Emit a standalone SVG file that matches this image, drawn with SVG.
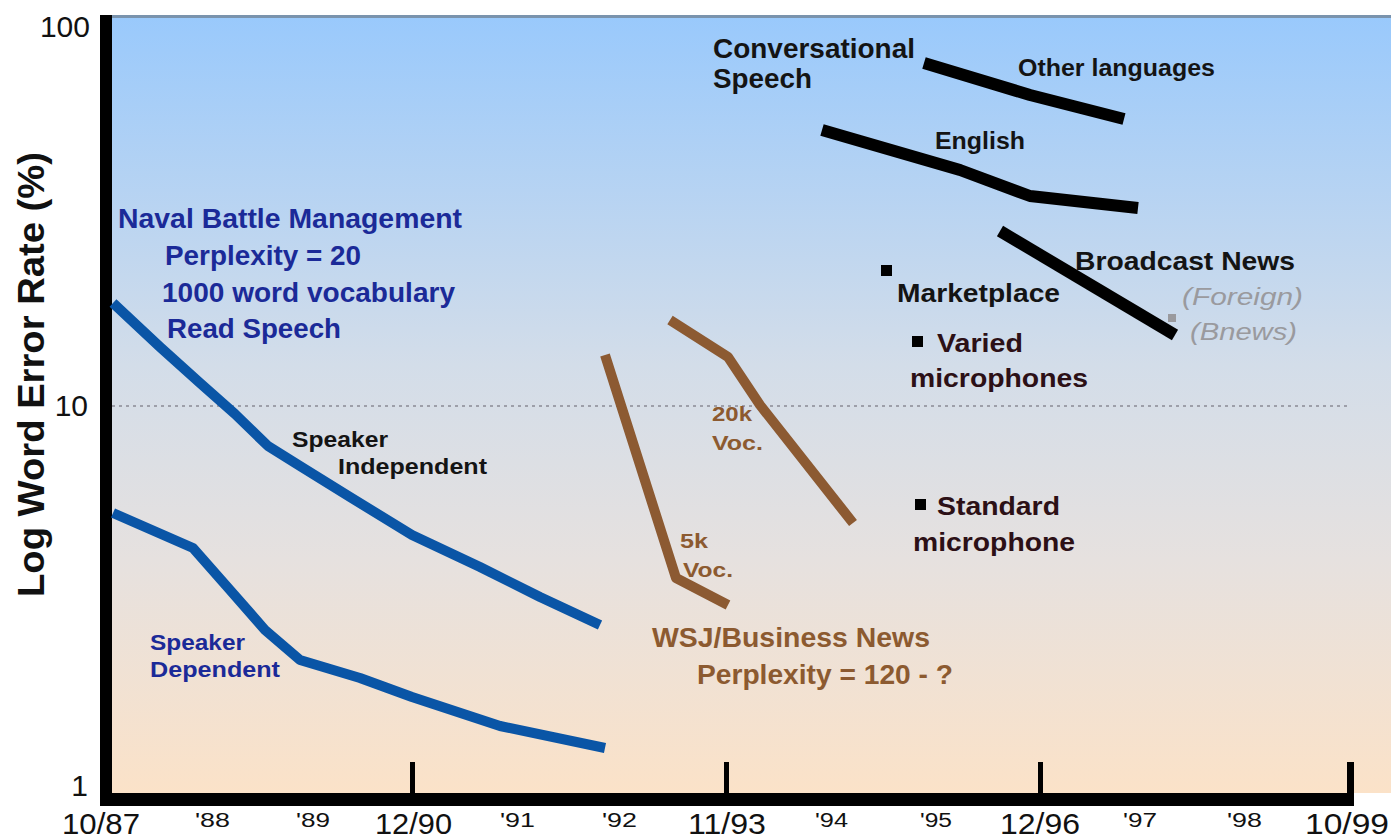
<svg xmlns="http://www.w3.org/2000/svg" width="1391" height="839" viewBox="0 0 1391 839">
<defs>
<linearGradient id="bg" x1="0" y1="0" x2="0" y2="1">
<stop offset="0" stop-color="#99c9fc"/>
<stop offset="0.45" stop-color="#d3dde9"/>
<stop offset="0.7" stop-color="#e6e1df"/>
<stop offset="1" stop-color="#fbe2c8"/>
</linearGradient>
</defs>
<style>
text{font-family:"Liberation Sans",Arial,sans-serif;font-weight:bold}
.ax{font-weight:normal;fill:#111}
.yl{font-size:30px}
.xb{font-size:30px}
.xs{font-size:20px}
.blue{fill:#1b2a98}
.blk{fill:#141414}
.brn{fill:#8c5a30}
.mar{fill:#2c1016}
.gry{fill:#9a9a9e;font-style:italic;font-weight:normal}
.lb{fill:none;stroke:#0a55a6;stroke-width:10;stroke-linejoin:round}
.lr{fill:none;stroke:#8c5a32;stroke-width:10;stroke-linejoin:round}
.lk{fill:none;stroke:#000;stroke-width:12;stroke-linejoin:round}
</style>
<rect width="1391" height="839" fill="#fff"/>
<g id="plot">
<rect x="112" y="15" width="1279" height="778" fill="url(#bg)"/>
<line x1="112" y1="16.5" x2="1391" y2="16.5" stroke="#7a93ad" stroke-width="3"/>
<line x1="112" y1="406" x2="1350" y2="406" stroke="#8a8a95" stroke-width="1.5" stroke-dasharray="3,4"/>
</g>
<g id="axes">
<rect x="100" y="15" width="12" height="791" fill="#000"/>
<rect x="100" y="793" width="1253" height="13" fill="#000"/>
<rect x="410" y="762" width="5" height="33" fill="#000"/>
<rect x="724" y="762" width="5" height="33" fill="#000"/>
<rect x="1038" y="762" width="5" height="33" fill="#000"/>
<rect x="1347" y="762" width="7" height="44" fill="#000"/>
<text class="ax yl" x="90" y="37" text-anchor="end">100</text>
<text class="ax yl" x="88" y="416" text-anchor="end">10</text>
<text class="ax yl" x="88" y="796" text-anchor="end">1</text>
<text class="ax" transform="translate(44,597) rotate(-90)" font-size="36" font-weight="bold" textLength="445" lengthAdjust="spacingAndGlyphs" style="font-weight:bold">Log Word Error Rate (%)</text>
<text class="ax xb" x="62" y="834" textLength="78" lengthAdjust="spacingAndGlyphs">10/87</text>
<text class="ax xs" x="195" y="827" textLength="35" lengthAdjust="spacingAndGlyphs">'88</text>
<text class="ax xs" x="296" y="827" textLength="34" lengthAdjust="spacingAndGlyphs">'89</text>
<text class="ax xb" x="375" y="834" textLength="77" lengthAdjust="spacingAndGlyphs">12/90</text>
<text class="ax xs" x="500" y="827" textLength="35" lengthAdjust="spacingAndGlyphs">'91</text>
<text class="ax xs" x="602" y="827" textLength="35" lengthAdjust="spacingAndGlyphs">'92</text>
<text class="ax xb" x="688" y="834" textLength="78" lengthAdjust="spacingAndGlyphs">11/93</text>
<text class="ax xs" x="815" y="827" textLength="33" lengthAdjust="spacingAndGlyphs">'94</text>
<text class="ax xs" x="920" y="827" textLength="32" lengthAdjust="spacingAndGlyphs">'95</text>
<text class="ax xb" x="1000" y="834" textLength="80" lengthAdjust="spacingAndGlyphs">12/96</text>
<text class="ax xs" x="1123" y="827" textLength="34" lengthAdjust="spacingAndGlyphs">'97</text>
<text class="ax xs" x="1227" y="827" textLength="35" lengthAdjust="spacingAndGlyphs">'98</text>
<text class="ax xb" x="1305" y="834" textLength="84" lengthAdjust="spacingAndGlyphs">10/99</text>
</g>
<g id="connectors">
<polyline class="lb" points="113,303 160,347 200,383 235,414 268,446 300,466 350,497 412,535 480,567 540,597 600,625"/>
<polyline class="lb" points="113,513 193,548 230,590 265,630 300,660 360,678 412,697 500,726 605,748"/>
<polyline class="lr" points="605,355 676,578 728,605"/>
<polyline class="lr" points="670,320 728,357 760,405 853,523"/>
<polyline class="lk" points="924,63 1030,95 1124,119"/>
<polyline class="lk" points="822,130 960,170 1030,196 1138,208"/>
<polyline class="lk" points="1000,231 1175,335"/>
</g>
<g id="naval">
<text class="blue" font-size="28" x="118" y="228" textLength="344" lengthAdjust="spacingAndGlyphs">Naval Battle Management</text>
<text class="blue" font-size="28" x="165" y="265" textLength="196" lengthAdjust="spacingAndGlyphs">Perplexity = 20</text>
<text class="blue" font-size="28" x="162" y="302" textLength="293" lengthAdjust="spacingAndGlyphs">1000 word vocabulary</text>
<text class="blue" font-size="28" x="167" y="338" textLength="174" lengthAdjust="spacingAndGlyphs">Read Speech</text>
</g>
<g id="speaker-independent">
<text class="blk" font-size="22" x="292" y="447" textLength="96" lengthAdjust="spacingAndGlyphs">Speaker</text>
<text class="blk" font-size="22" x="338" y="474" textLength="149" lengthAdjust="spacingAndGlyphs">Independent</text>
</g>
<g id="speaker-dependent">
<text class="blue" font-size="22" x="150" y="650" textLength="95" lengthAdjust="spacingAndGlyphs">Speaker</text>
<text class="blue" font-size="22" x="150" y="677" textLength="130" lengthAdjust="spacingAndGlyphs">Dependent</text>
</g>
<g id="wsj">
<text class="brn" font-size="20" x="712" y="421" textLength="40" lengthAdjust="spacingAndGlyphs">20k</text>
<text class="brn" font-size="20" x="712" y="450" textLength="51" lengthAdjust="spacingAndGlyphs">Voc.</text>
<text class="brn" font-size="20" x="680" y="548" textLength="28" lengthAdjust="spacingAndGlyphs">5k</text>
<text class="brn" font-size="20" x="683" y="577" textLength="50" lengthAdjust="spacingAndGlyphs">Voc.</text>
<text class="brn" font-size="27" x="652" y="647" textLength="278" lengthAdjust="spacingAndGlyphs">WSJ/Business News</text>
<text class="brn" font-size="27" x="697" y="684" textLength="256" lengthAdjust="spacingAndGlyphs">Perplexity = 120 - ?</text>
</g>
<g id="conversational">
<text class="blk" font-size="27" x="713" y="58" textLength="202" lengthAdjust="spacingAndGlyphs">Conversational</text>
<text class="blk" font-size="27" x="713" y="88" textLength="99" lengthAdjust="spacingAndGlyphs">Speech</text>
<text class="blk" font-size="23" x="1018" y="76" textLength="197" lengthAdjust="spacingAndGlyphs">Other languages</text>
<text class="blk" font-size="24" x="935" y="149" textLength="90" lengthAdjust="spacingAndGlyphs">English</text>
</g>
<g id="broadcast">
<text class="blk" font-size="26" x="1075" y="270" textLength="220" lengthAdjust="spacingAndGlyphs">Broadcast News</text>
<rect x="1168" y="314" width="8" height="8" fill="#9a9a9e"/>
<text class="gry" font-size="24" x="1182" y="305" textLength="121" lengthAdjust="spacingAndGlyphs">(Foreign)</text>
<text class="gry" font-size="24" x="1190" y="340" textLength="107" lengthAdjust="spacingAndGlyphs">(Bnews)</text>
</g>
<g id="marketplace">
<rect x="881" y="265" width="11" height="11" fill="#000"/>
<text class="blk" font-size="25" x="897" y="302" textLength="163" lengthAdjust="spacingAndGlyphs">Marketplace</text>
</g>
<g id="varied">
<rect x="912" y="336" width="11" height="11" fill="#000"/>
<text class="mar" font-size="26" x="937" y="352" textLength="86" lengthAdjust="spacingAndGlyphs">Varied</text>
<text class="mar" font-size="26" x="910" y="387" textLength="178" lengthAdjust="spacingAndGlyphs">microphones</text>
</g>
<g id="standard">
<rect x="915" y="499" width="11" height="11" fill="#000"/>
<text class="mar" font-size="26" x="937" y="515" textLength="123" lengthAdjust="spacingAndGlyphs">Standard</text>
<text class="mar" font-size="26" x="913" y="551" textLength="162" lengthAdjust="spacingAndGlyphs">microphone</text>
</g>
</svg>
